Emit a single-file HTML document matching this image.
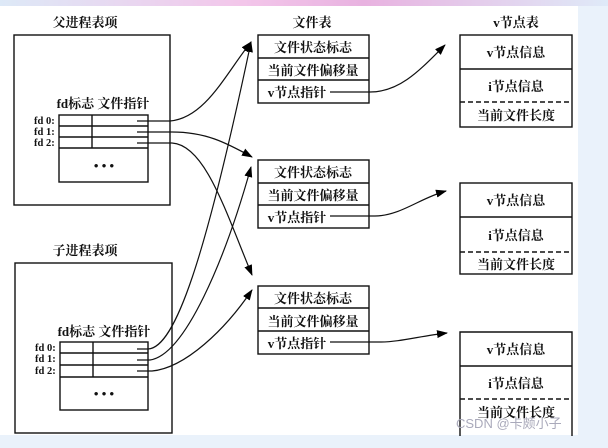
<!DOCTYPE html>
<html><head><meta charset="utf-8"><style>
body{margin:0;width:608px;height:443px;overflow:hidden;background:#eaf2fb;}
svg text{font-family:"Liberation Serif","Noto Serif CJK SC","Noto Sans CJK SC",serif;font-size:13px;font-weight:bold;fill:#111;}
</style></head><body>
<svg width="608" height="443" viewBox="0 0 608 443">
<defs>
<linearGradient id="tp" x1="0" x2="1"><stop offset="0" stop-color="#dde9f7"/><stop offset="0.4" stop-color="#f3c6ea"/><stop offset="0.6" stop-color="#e8b2e0"/><stop offset="1" stop-color="#dfeaf8"/></linearGradient>
<marker id="ah" markerWidth="11" markerHeight="8" refX="10" refY="4" orient="auto" markerUnits="userSpaceOnUse"><path d="M0,0 L11,4 L0,8 z" fill="#000"/></marker>
</defs>
<rect x="0" y="0" width="608" height="6" fill="url(#tp)"/>
<rect x="0" y="6" width="578" height="429" fill="#fff"/>
<g stroke="#111" stroke-width="1.4" fill="none">
<rect x="14" y="35" width="156" height="170"/>
<rect x="59" y="115" width="89" height="67"/>
<line x1="59" y1="126" x2="148" y2="126"/><line x1="59" y1="137" x2="148" y2="137"/><line x1="59" y1="148" x2="148" y2="148"/>
<line x1="92" y1="115" x2="92" y2="148"/>
<rect x="15" y="263" width="157" height="170"/>
<rect x="60" y="342" width="88" height="68"/>
<line x1="60" y1="353" x2="148" y2="353"/><line x1="60" y1="365" x2="148" y2="365"/><line x1="60" y1="377" x2="148" y2="377"/>
<line x1="93" y1="342" x2="93" y2="377"/>
<rect x="258" y="35" width="111" height="68"/><line x1="258" y1="58" x2="369" y2="58"/><line x1="258" y1="80" x2="369" y2="80"/>
<rect x="258" y="160" width="111" height="68"/><line x1="258" y1="183" x2="369" y2="183"/><line x1="258" y1="205" x2="369" y2="205"/>
<rect x="258" y="286" width="111" height="68"/><line x1="258" y1="308" x2="369" y2="308"/><line x1="258" y1="331" x2="369" y2="331"/>
<rect x="460" y="35" width="112" height="92"/><line x1="460" y1="69" x2="572" y2="69"/><line x1="460" y1="102" x2="572" y2="102" stroke-dasharray="5,3"/>
<rect x="460" y="183" width="112" height="91"/><line x1="460" y1="217" x2="572" y2="217"/><line x1="460" y1="252" x2="572" y2="252" stroke-dasharray="5,3"/>
<path d="M460,436 V332 H572 V436"/><line x1="460" y1="366" x2="572" y2="366"/><line x1="460" y1="399" x2="572" y2="399" stroke-dasharray="5,3"/>
</g>
<g stroke="#111" stroke-width="1.2" fill="none" marker-end="url(#ah)">
<path d="M137,121 H170 C205,118 225,75 251,42"/>
<path d="M137,132 H172 C205,132 225,142 252,157"/>
<path d="M137,143 H172 C205,145 225,210 252,275"/>
<path d="M137,349 H148 C175,348 205,260 251,42"/>
<path d="M137,360 H150 C185,355 225,260 251,167"/>
<path d="M137,371 H152 C185,368 225,330 252,290"/>
<path d="M330,92 H370 C400,92 420,70 445,45"/>
<path d="M330,216 H375 C400,216 420,198 446,191"/>
<path d="M330,342 H380 C400,342 420,336 447,333"/>
</g>
<g text-anchor="middle">
<text x="85" y="27">父进程表项</text>
<text x="312" y="27">文件表</text>
<text x="516" y="27">v节点表</text>
<text x="103" y="108">fd标志 文件指针</text>
<text x="85" y="255">子进程表项</text>
<text x="104" y="336">fd标志 文件指针</text>
<text x="104" y="170">• • •</text>
<text x="104" y="398">• • •</text>
<text x="313" y="52">文件状态标志</text><text x="313" y="75">当前文件偏移量</text><text x="297" y="97">v节点指针</text>
<text x="313" y="177">文件状态标志</text><text x="313" y="200">当前文件偏移量</text><text x="297" y="222">v节点指针</text>
<text x="313" y="303">文件状态标志</text><text x="313" y="326">当前文件偏移量</text><text x="297" y="348">v节点指针</text>
<text x="516" y="57">v节点信息</text><text x="516" y="91">i节点信息</text><text x="516" y="120">当前文件长度</text>
<text x="516" y="205">v节点信息</text><text x="516" y="240">i节点信息</text><text x="516" y="269">当前文件长度</text>
<text x="516" y="354">v节点信息</text><text x="516" y="388">i节点信息</text><text x="516" y="417">当前文件长度</text>
</g>
<g>
<text x="34" y="124" style="font-size:10.5px">fd 0:</text><text x="34" y="135" style="font-size:10.5px">fd 1:</text><text x="34" y="146" style="font-size:10.5px">fd 2:</text>
<text x="35" y="351" style="font-size:10.5px">fd 0:</text><text x="35" y="362" style="font-size:10.5px">fd 1:</text><text x="35" y="374" style="font-size:10.5px">fd 2:</text>
</g>
<text x="456" y="428" style="font-family:'Liberation Sans','Noto Sans CJK SC',sans-serif;font-size:13px;font-weight:normal;fill:#aab;">CSDN @卡颇小子</text>
</svg>
</body></html>
